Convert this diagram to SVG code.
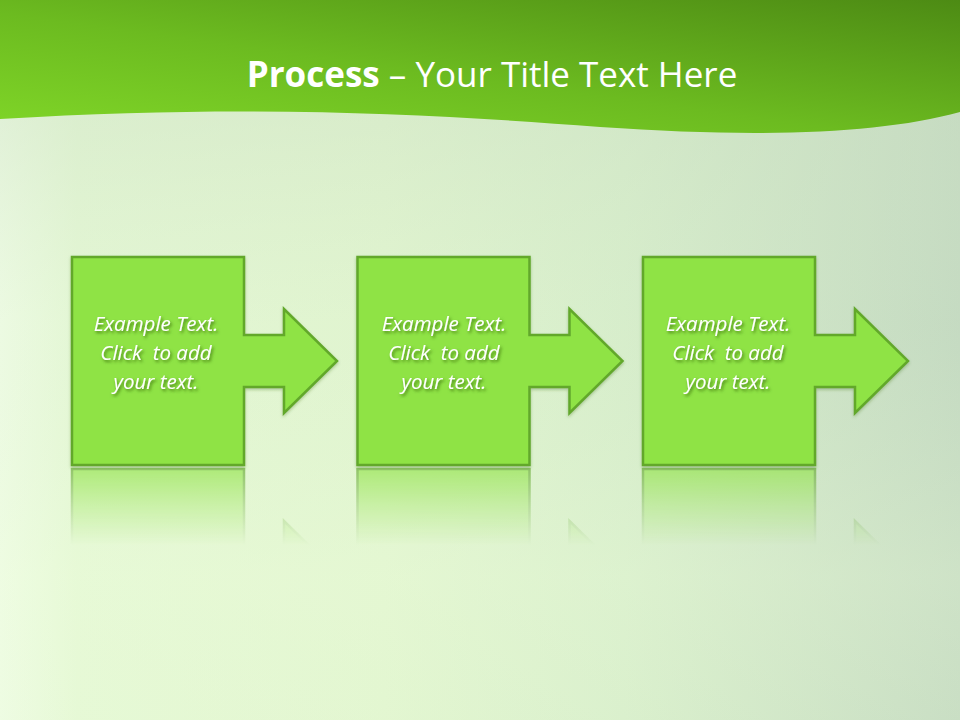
<svg xmlns="http://www.w3.org/2000/svg" xmlns:xlink="http://www.w3.org/1999/xlink" width="960" height="720" viewBox="0 0 960 720">
<defs>
  <linearGradient id="bgH" x1="0" y1="0" x2="1" y2="0">
    <stop offset="0" stop-color="#f0fde6"/>
    <stop offset="0.08" stop-color="#e6f9d6"/>
    <stop offset="0.4" stop-color="#e2f6d0"/>
    <stop offset="0.65" stop-color="#d7eecb"/>
    <stop offset="1" stop-color="#c2d8c0"/>
  </linearGradient>
  <linearGradient id="bgV" x1="0" y1="0" x2="0" y2="1">
    <stop offset="0" stop-color="#c8dcc0" stop-opacity="0.6"/>
    <stop offset="0.45" stop-color="#d5e9cb" stop-opacity="0.15"/>
    <stop offset="0.8" stop-color="#eafbd8" stop-opacity="0.3"/>
    <stop offset="1" stop-color="#e6f8d4" stop-opacity="0.2"/>
  </linearGradient>
  <linearGradient id="bar" x1="0" y1="1" x2="1" y2="0">
    <stop offset="0" stop-color="#80d628"/>
    <stop offset="0.45" stop-color="#6cbb20"/>
    <stop offset="1" stop-color="#4d8b14"/>
  </linearGradient>
  <linearGradient id="reflGrad" gradientUnits="userSpaceOnUse" x1="0" y1="467" x2="0" y2="545">
    <stop offset="0" stop-color="#fff" stop-opacity="0.65"/>
    <stop offset="0.5" stop-color="#fff" stop-opacity="0.3"/>
    <stop offset="1" stop-color="#fff" stop-opacity="0"/>
  </linearGradient>
  <mask id="reflMask" maskUnits="userSpaceOnUse" x="0" y="460" width="960" height="100">
    <rect x="0" y="460" width="960" height="100" fill="url(#reflGrad)"/>
  </mask>
  <filter id="txtShadow" x="-20%" y="-20%" width="140%" height="140%">
    <feDropShadow dx="1.5" dy="2" stdDeviation="1.5" flood-color="#2f5f10" flood-opacity="0.75"/>
  </filter>
  <filter id="boxShadow" x="-10%" y="-10%" width="120%" height="125%">
    <feDropShadow dx="0" dy="1.5" stdDeviation="1.5" flood-color="#3c6e1a" flood-opacity="0.35"/>
  </filter>
  <path id="shape" d="M72,257 H244 V335 H284 V309 L337,361 L284,413 V387 H244 V465 H72 Z"/>
  <style>
    .box { fill: #8fe345; stroke: #62a82c; stroke-width: 2.5; stroke-linejoin: miter; }
    .lbl { font-family: "Open Sans", "Liberation Sans", sans-serif; font-style: italic; font-size: 20.5px; fill: #ffffff; text-anchor: middle; }
    .title { font-family: "Open Sans", "Liberation Sans", sans-serif; font-size: 35px; fill: #ffffff; text-anchor: middle; }
  </style>
</defs>

<g id="background">
  <rect x="0" y="0" width="960" height="720" fill="url(#bgH)"/>
  <rect x="0" y="0" width="960" height="720" fill="url(#bgV)"/>
  <path d="M0,0 H960 V112 C880,134 760,138 600,127 C430,114 250,104 0,119 Z" fill="url(#bar)"/>
</g>

<g id="title">
  <text class="title" x="492" y="87"><tspan font-weight="bold">Process</tspan> – Your Title Text Here</text>
</g>

<g id="reflections" mask="url(#reflMask)">
  <use xlink:href="#shape" class="box" transform="translate(0,934) scale(1,-1)"/>
  <use xlink:href="#shape" class="box" transform="translate(285.5,934) scale(1,-1)"/>
  <use xlink:href="#shape" class="box" transform="translate(571,934) scale(1,-1)"/>
</g>

<g id="step1" filter="url(#boxShadow)">
  <use xlink:href="#shape" class="box"/>
</g>
<g id="step1-label" filter="url(#txtShadow)">
  <text class="lbl" x="156" y="331">Example Text.</text>
  <text class="lbl" x="156" y="360" xml:space="preserve">Click  to add</text>
  <text class="lbl" x="156" y="389">your text.</text>
</g>

<g id="step2" filter="url(#boxShadow)">
  <use xlink:href="#shape" class="box" transform="translate(285.5,0)"/>
</g>
<g id="step2-label" filter="url(#txtShadow)">
  <text class="lbl" x="444" y="331">Example Text.</text>
  <text class="lbl" x="444" y="360" xml:space="preserve">Click  to add</text>
  <text class="lbl" x="444" y="389">your text.</text>
</g>

<g id="step3" filter="url(#boxShadow)">
  <use xlink:href="#shape" class="box" transform="translate(571,0)"/>
</g>
<g id="step3-label" filter="url(#txtShadow)">
  <text class="lbl" x="728" y="331">Example Text.</text>
  <text class="lbl" x="728" y="360" xml:space="preserve">Click  to add</text>
  <text class="lbl" x="728" y="389">your text.</text>
</g>
</svg>
